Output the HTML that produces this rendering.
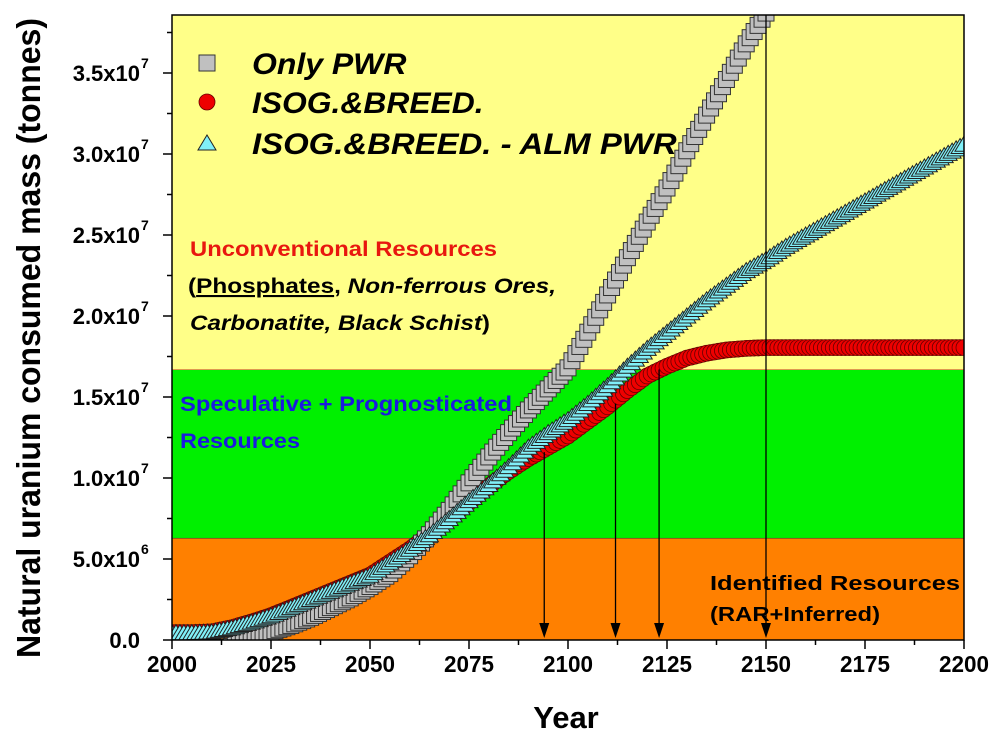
<!DOCTYPE html>
<html><head><meta charset="utf-8"><style>
html,body{margin:0;padding:0;background:#fff;}
svg{display:block;font-family:"Liberation Sans",Arial,sans-serif;}
</style></head><body>
<svg id="chart" width="1000" height="746" viewBox="0 0 1000 746" xmlns="http://www.w3.org/2000/svg">
<g id="bands"></g>
<g id="marks"></g>
<g id="axes"></g>
<g id="texts">
<text x="190" y="256" font-size="21" font-weight="bold" fill="#e8170f" textLength="307" lengthAdjust="spacingAndGlyphs">Unconventional Resources</text>
<text x="188" y="293" font-size="21" font-weight="bold" fill="#000" textLength="368" lengthAdjust="spacingAndGlyphs">(<tspan text-decoration="underline">Phosphates</tspan>, <tspan font-style="italic">Non-ferrous Ores,</tspan></text>
<text x="190" y="330" font-size="21" font-weight="bold" font-style="italic" fill="#000" textLength="300" lengthAdjust="spacingAndGlyphs">Carbonatite, Black Schist<tspan font-style="normal">)</tspan></text>
<text x="180" y="411" font-size="21" font-weight="bold" fill="#1a1ae0" textLength="332" lengthAdjust="spacingAndGlyphs">Speculative + Prognosticated</text>
<text x="180" y="448" font-size="21" font-weight="bold" fill="#1a1ae0" textLength="120" lengthAdjust="spacingAndGlyphs">Resources</text>
<text x="710" y="590" font-size="20" font-weight="bold" fill="#000" textLength="250" lengthAdjust="spacingAndGlyphs">Identified Resources</text>
<text x="710" y="621" font-size="20" font-weight="bold" fill="#000" textLength="170" lengthAdjust="spacingAndGlyphs">(RAR+Inferred)</text>
</g>
<g id="legend"></g>
</svg>
<script>
const years = [2000,2005,2010,2015,2020,2025,2030,2035,2040,2045,2050,2055,2060,2065,2070,2075,2080,2085,2090,2095,2100,2105,2110,2115,2120,2125,2130,2135,2140,2145,2150,2155,2160,2165,2170,2175,2180,2185,2190,2195,2200];
// values in 1e6 tonnes
const onlyPWR = [-0.8,-0.8,-0.7,-0.4,0.1,0.5,0.9,1.4,2.0,2.6,3.3,4.1,5.2,6.5,8.0,9.7,11.3,12.8,14.2,15.5,16.8,19.0,21.3,23.6,25.8,27.9,30.2,32.4,34.6,36.8,38.7,null,null,null,null,null,null,null,null,null,null];
const isogBreed = [0.45,0.45,0.5,0.75,1.1,1.5,2.0,2.5,3.0,3.5,4.0,4.8,5.6,6.5,7.5,8.5,9.5,10.4,11.2,11.9,12.6,13.5,14.4,15.4,16.3,16.9,17.4,17.7,17.9,18.0,18.05,18.05,18.05,18.05,18.05,18.05,18.05,18.05,18.05,18.05,18.05];
const isogAlm = [0.45,0.45,0.5,0.75,1.1,1.5,2.0,2.5,3.0,3.5,4.0,4.8,5.6,6.5,7.5,8.6,9.6,10.7,11.9,12.8,13.6,14.6,15.7,16.9,18.0,19.0,20.0,21.0,21.9,22.8,23.5,24.3,25.0,25.7,26.4,27.1,27.8,28.5,29.2,29.9,30.6];
const bandTops = [6.3, 16.7, 38.7]; // identified, speculative, unconventional
const arrowYears = [2094, 2112, 2123, 2150];
const arrowFrom = [11.6, 14.6, 16.7, 38.7];
const yTicks = [0,5,10,15,20,25,30,35];
const yTickLabels = ["0.0","5.0x10","1.0x10","1.5x10","2.0x10","2.5x10","3.0x10","3.5x10"];
const yTickExp = ["","6","7","7","7","7","7","7"];
const xTicks = [2000,2025,2050,2075,2100,2125,2150,2175,2200];

const NS="http://www.w3.org/2000/svg";
const L=172,R=964,T=15,B=640;
const X=v=>L+(v-2000)*(R-L)/200;
const Y=v=>B-v*16.2;
function mk(tag,attrs,parent){const e=document.createElementNS(NS,tag);for(const k in attrs)e.setAttribute(k,attrs[k]);parent.appendChild(e);return e;}
const bands=document.getElementById('bands'),marks=document.getElementById('marks'),axes=document.getElementById('axes'),legend=document.getElementById('legend');

const bandColors=['#ff8000','#00f000','#ffff88'];
const bandNames=['identified-band','speculative-band','unconventional-band'];
let prev=0;
for(let i=0;i<3;i++){
  const top=Math.max(Y(bandTops[i]),T);
  const r=mk('rect',{x:L,y:top,width:R-L,height:Y(prev)-top,fill:bandColors[i]},bands);
  
  
  if(i<2){const ln=mk('line',{x1:L,x2:R,y1:Y(bandTops[i]),y2:Y(bandTops[i]),stroke:i==0?'#333':'#c04020','stroke-width':1.2},bands);
    
    }
  prev=bandTops[i];
}

function yearly(vals){const pts=[];for(let y=2000;y<=2200;y++){const i=Math.min(Math.floor((y-2000)/5),years.length-2);const a=vals[i],b=vals[i+1];const t=(y-years[i])/5;if(a==null)continue;if(b==null){if(t===0)pts.push([y,a]);continue;}pts.push([y,a+(b-a)*t]);}return pts;}

const clip=mk('clipPath',{id:'pc'},marks);mk('rect',{x:L,y:T,width:R-L,height:B-T},clip);
const g=mk('g',{'clip-path':'url(#pc)'},marks);

function circle(x,y,p,name){const c=mk('circle',{cx:x,cy:y,r:8,fill:'#ee0000',stroke:'#600','stroke-width':0.8},p);return c;}
function square(x,y,p,name){const s=mk('rect',{x:x-8,y:y-8,width:16,height:16,fill:'#c0c0c0',stroke:'#333','stroke-width':1},p);return s;}
function tri(x,y,p,name){const t=mk('path',{d:`M${x},${y-8} L${x+9},${y+7} L${x-9},${y+7} Z`,fill:'#80f0f8',stroke:'#222','stroke-width':1},p);return t;}

yearly(isogBreed).forEach(p=>circle(X(p[0]),Y(p[1]),g,'isog-breed-point'));
yearly(onlyPWR).forEach(p=>square(X(p[0]),Y(p[1]),g,'only-pwr-point'));
yearly(isogAlm).forEach(p=>tri(X(p[0]),Y(p[1]),g,'isog-alm-point'));

for(let i=0;i<arrowYears.length;i++){
  const x=X(arrowYears[i]);
  const ln=mk('line',{x1:x,x2:x,y1:Math.max(Y(arrowFrom[i]),T),y2:B-6,stroke:'#000','stroke-width':1.3},marks);
  
  
  const h=mk('path',{d:`M${x-5},${B-17} L${x+5},${B-17} L${x},${B-2} Z`,fill:'#000'},marks);
  
  
}

const fr=mk('rect',{x:L,y:T,width:R-L,height:B-T,fill:'none',stroke:'#000','stroke-width':1.5},axes);


for(let v=0;v<=37.5;v+=2.5){const major=(v%5===0);mk('line',{x1:L,x2:L-(major?9:5),y1:Y(v),y2:Y(v),stroke:'#000','stroke-width':1.5},axes);}
yTicks.forEach((v,i)=>{const t=mk('text',{x:140,y:Y(v)+8,'text-anchor':'end','font-size':22,'font-weight':'bold'},axes);t.textContent=yTickLabels[i];
 if(yTickExp[i]){const s=mk('text',{x:141,y:Y(v)-5,'font-size':14,'font-weight':'bold'},axes);s.textContent=yTickExp[i];}});
for(let v=2000;v<=2200;v+=12.5){const major=((v-2000)%25===0);mk('line',{x1:X(v),x2:X(v),y1:B,y2:B+(major?9:5),stroke:'#000','stroke-width':1.5},axes);}
xTicks.forEach(v=>{const t=mk('text',{x:X(v),y:672,'text-anchor':'middle','font-size':23,'font-weight':'bold',textLength:50,lengthAdjust:'spacingAndGlyphs'},axes);t.textContent=v;});
const xt=mk('text',{x:566,y:728,'text-anchor':'middle','font-size':31,'font-weight':'bold'},axes);xt.textContent='Year';


const yt=mk('text',{x:0,y:0,'text-anchor':'middle','font-size':33,'font-weight':'bold',transform:'translate(40,338) rotate(-90)',textLength:640,lengthAdjust:'spacingAndGlyphs'},axes);yt.textContent='Natural uranium consumed mass (tonnes)';



const lg=[['Only PWR',square,63,'legend-only-pwr'],['ISOG.&BREED.',circle,102,'legend-isog-breed'],['ISOG.&BREED. - ALM PWR',tri,143,'legend-isog-alm']];
lg.forEach(e=>{e[1](207,e[2],legend,'legend-marker');const t=mk('text',{x:252,y:e[2]+11,'font-size':30,'font-weight':'bold','font-style':'italic',textLength:e[0].length*19.3,lengthAdjust:'spacingAndGlyphs'},legend);t.textContent=e[0];});
</script>
</body></html>
